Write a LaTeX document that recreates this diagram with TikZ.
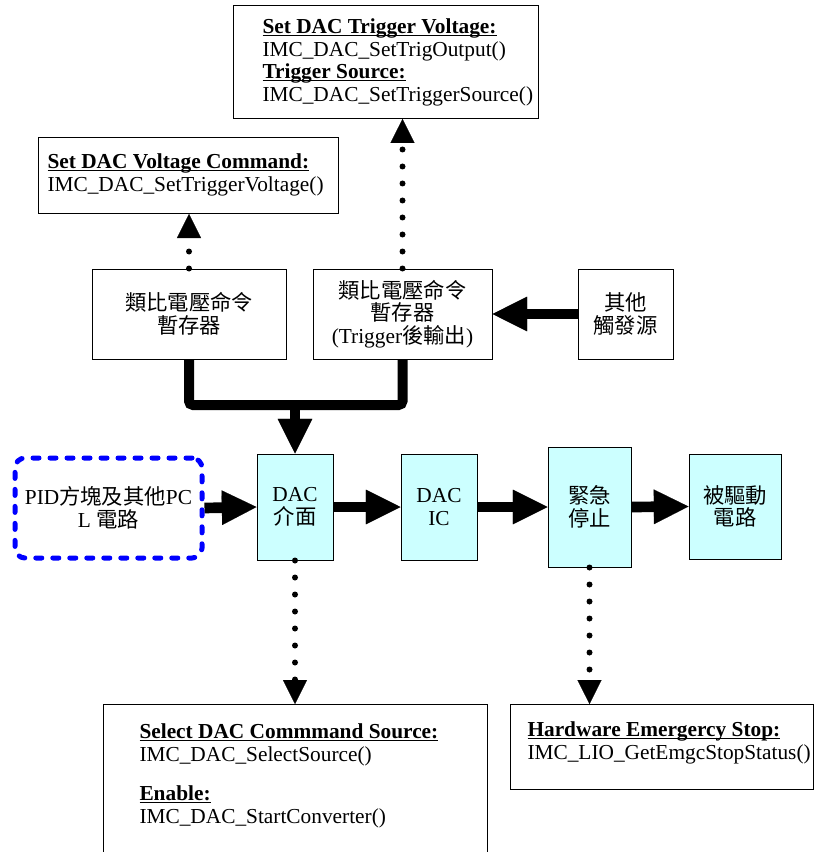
\documentclass[tikz,border=0pt]{standalone}
\usepackage{fontspec}
\setmainfont{Liberation Serif}
\newfontfamily\cjk{Noto Sans CJK TC}
\usetikzlibrary{arrows.meta}
\definecolor{dacfill}{RGB}{204,255,255}
\definecolor{pidblue}{RGB}{0,0,255}
\newcommand{\hdr}[1]{\underline{\smash{\textbf{#1}}}\vphantom{Tg}}

\tikzset{every picture/.style={line width=0.75pt}}
\tikzset{
	apibox/.style={draw, anchor=north west, inner sep=0pt},
	apitext/.style={anchor=north west, inner sep=0pt, align=left, font=\fontsize{16pt}{17pt}\selectfont},
	regbox/.style={draw, align=center, inner sep=0pt, minimum height=67.5pt, font=\fontsize{16pt}{17pt}\selectfont\cjk},
	dacbox/.style={draw, fill=dacfill, align=center, inner sep=0pt, font=\fontsize{16pt}{17pt}\selectfont},
	pidbox/.style={draw=pidblue, line width=3.75pt, dash pattern=on 4.5pt off 8.25pt, line cap=round, rounded corners=7.5pt, align=center, inner sep=0pt, font=\fontsize{16pt}{17pt}\selectfont},
	bigarrow/.style={line width=8pt, -{Triangle[length=26pt,width=26pt,line width=0.1pt]}},
	dotarrow/.style={line width=4.5pt, line cap=round, dash pattern=on 0pt off 12.75pt, -{Triangle[length=18pt,width=18pt,line width=0.1pt]}},
}

\begin{document}
\begin{tikzpicture}[x=0.75pt,y=0.75pt,yscale=-1,xscale=1]
	\useasboundingbox (0,0) rectangle (816,852);
	\clip (0,0) rectangle (816,852);

	%Shape: Rectangle [trigger api]
	\node[apibox, minimum width=228.75pt, minimum height=84.75pt] (trig) at (233,5) {};
	% Text Node
	\node[apitext] (trigtxt) at (262,19) {\hdr{Set DAC Trigger Voltage:}\\IMC\_DAC\_SetTrigOutput()\\\hdr{Trigger Source:}\\IMC\_DAC\_SetTriggerSource()};
	%Shape: Rectangle [voltage api]
	\node[apibox, minimum width=225pt, minimum height=57pt] (vcmd) at (38,137) {};
	% Text Node
	\node[apitext] (vcmdtxt) at (47,154) {\hdr{Set DAC Voltage Command:}\\IMC\_DAC\_SetTriggerVoltage()};

	%Shape: Rectangle [registers]
	\node[regbox, minimum width=145.5pt] (reg1) at (189,314) {類比電壓命令\\暫存器};
	\node[regbox, minimum width=134.25pt] (reg2) at (402.5,314) {類比電壓命令\\暫存器\\{\rmfamily(Trigger}後輸出{\rmfamily)}};
	\node[regbox, minimum width=71.25pt] (other) at (625.5,314) {其他\\觸發源};

	%Shape: Rectangle [signal path]
	\node[pidbox, minimum width=140.25pt, minimum height=75pt] (pid) at (108.5,508) {PID{\cjk 方塊及其他}PC\\L {\cjk 電路}};
	\node[dacbox, minimum width=57pt, minimum height=79.5pt] (dacif) at (295,507) {DAC\\{\cjk 介面}};
	\node[dacbox, minimum width=57pt, minimum height=79.5pt] (dacic) at (439,507) {DAC\\IC};
	\node[dacbox, minimum width=62.25pt, minimum height=90pt] (estop) at (589.5,507) {{\cjk 緊急}\\{\cjk 停止}};
	\node[dacbox, minimum width=69pt, minimum height=78.75pt] (drv) at (735,506.5) {{\cjk 被驅動}\\{\cjk 電路}};

	%Shape: Rectangle [bottom api]
	\node[apibox, minimum width=288pt, minimum height=150pt] (selsrc) at (103,704) {};
	% Text Node
	\node[apitext] (seltxt) at (139,724) {\hdr{Select DAC Commmand Source:}\\IMC\_DAC\_SelectSource()\\[12.75pt]\hdr{Enable:}\\IMC\_DAC\_StartConverter()};
	\node[apibox, minimum width=227.25pt, minimum height=63.75pt] (emgapi) at (510,704) {};
	% Text Node
	\node[apitext] (emgtxt) at (527,722) {\hdr{Hardware Emergercy Stop:}\\IMC\_LIO\_GetEmgcStopStatus()};

	%Straight Lines [register bus]
	\coordinate (join) at (295,405);
	\draw[line width=7.5pt, rounded corners=3pt] (reg1.south) |- (join) -| (reg2.south);
	\draw[bigarrow, line width=7.5pt] (join) -- (dacif.north);
	\draw[bigarrow, line width=7.5pt] (other.west) -- (reg2.east);

	%Straight Lines [signal path]
	\draw[bigarrow] (pid.east) -- (dacif.west);
	\draw[bigarrow] (dacif.east) -- (dacic.west);
	\draw[bigarrow] (dacic.east) -- (estop.west);
	\draw[bigarrow] (estop.east) -- (drv.west);

	%Dotted Lines [api calls]
	\draw[dotarrow] (reg1.north) -- (reg1.north |- vcmd.south);
	\draw[dotarrow] (reg2.north) -- (reg2.north |- trig.south);
	\draw[dotarrow] (dacif.south) -- (dacif.south |- selsrc.north);
	\draw[dotarrow] (estop.south) -- (estop.south |- emgapi.north);

\end{tikzpicture}
\end{document}
